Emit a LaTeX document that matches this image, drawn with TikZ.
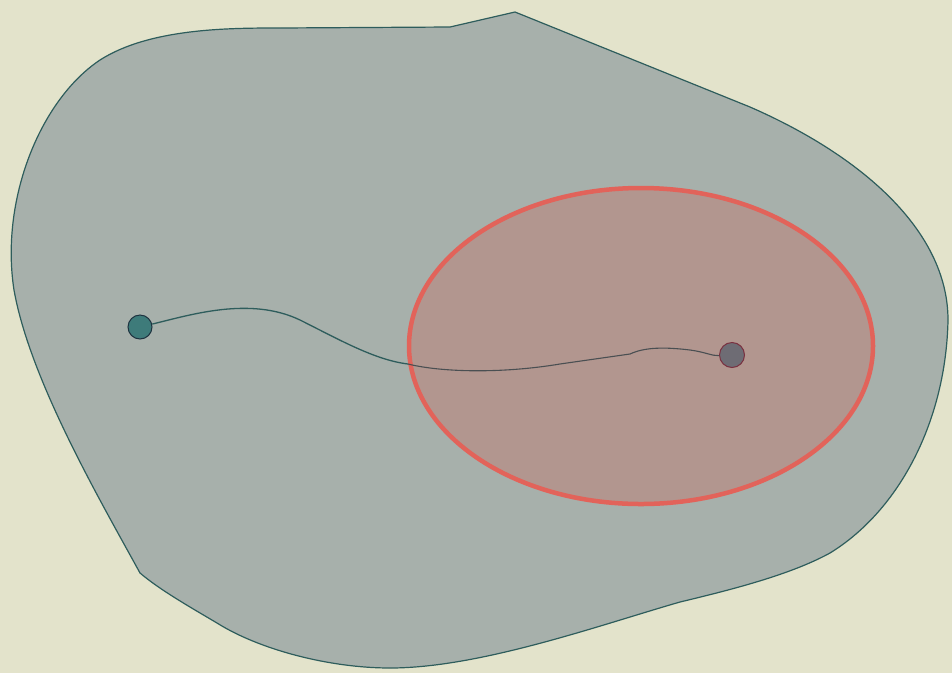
\documentclass[tikz,border=0pt]{standalone}
\begin{document}
\begin{tikzpicture}[x=1pt,y=-1pt,
  blob/.style={draw=blobline,fill=blobfill,line width=1.2pt},
  region/.style={draw=regred,fill=regfill,line width=4.5pt},
  dotA/.style={circle,draw=dotAline,fill=dotAfill,line width=1pt,minimum size=24pt,inner sep=0pt},
  dotB/.style={circle,draw=dotBline,fill=dotBfill,line width=1pt,minimum size=25pt,inner sep=0pt},
  wire/.style={draw=blobline,line width=1.3pt}]
\definecolor{bg}{HTML}{E3E3CB}
\definecolor{blobfill}{HTML}{A7B0AB}
\definecolor{blobline}{HTML}{2E5D5C}
\definecolor{regred}{HTML}{E2635A}
\definecolor{regfill}{HTML}{B2968F}
\definecolor{dotAfill}{HTML}{3E7B7A}
\definecolor{dotAline}{HTML}{1E3340}
\definecolor{dotBfill}{HTML}{6E6C74}
\definecolor{dotBline}{HTML}{7A3040}
\definecolor{wireB}{HTML}{4A4F52}
\fill[bg] (0,0) rectangle (952,673);
\useasboundingbox (0,0) rectangle (952,673);
% outer region
\draw[blob] (450,27) -- (515,12) -- (750,107)
  .. controls (860,155) and (948,230) .. (948,320)
  .. controls (946,420) and (900,510) .. (830,553)
  .. controls (790,575) and (730,590) .. (680,602)
  .. controls (600,625) and (480,668) .. (390,668)
  .. controls (330,668) and (260,650) .. (217,623)
  .. controls (190,607) and (160,590) .. (140,573)
  .. controls (100,500) and (30,380) .. (14,290)
  .. controls (0,200) and (40,100) .. (100,60)
  .. controls (150,28) and (230,28) .. (280,28) -- cycle;
% inner ellipse
\draw[region] (641,346) ellipse [x radius=232pt, y radius=158pt];
% dots
\node[dotA] (a) at (140,327) {};
\node[dotB] (b) at (732,355) {};
\coordinate (m) at (408,364);
\draw[wire] (a) .. controls (190,315) and (250,296) .. (300,320)
  .. controls (340,340) and (375,360) .. (m);
\draw[wireB,line width=1.1pt] (m) .. controls (440,372) and (500,374) .. (560,364)
  -- (630,354) .. controls (645,347) and (665,347) .. (690,350)
  .. controls (705,352) and (712,356) .. (b);
\end{tikzpicture}
\end{document}
